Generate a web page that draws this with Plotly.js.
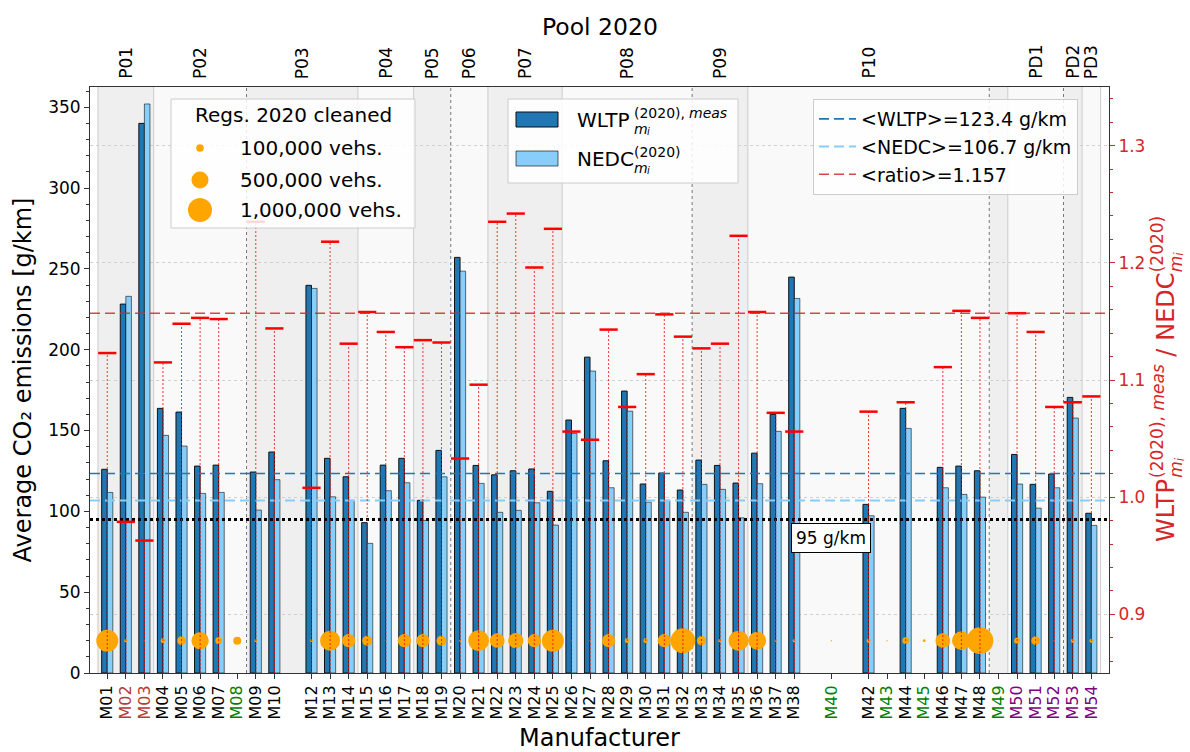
<!DOCTYPE html>
<html><head><meta charset="utf-8">
<script src="https://cdn.plot.ly/plotly-3.0.1.min.js"></script>
<style>html,body{margin:0;padding:0;background:#fff}</style>
</head><body>
<div id="chart" style="width:1190px;height:752px"></div>
<script>
// ---------------- data ----------------
const manufacturers = ["M01","M02","M03","M04","M05","M06","M07","M08","M09","M10",
  "","M12","M13","M14","M15","M16","M17","M18","M19","M20",
  "M21","M22","M23","M24","M25","M26","M27","M28","M29","M30",
  "M31","M32","M33","M34","M35","M36","M37","M38","","M40",
  "","M42","M43","M44","M45","M46","M47","M48","M49","M50",
  "M51","M52","M53","M54"];
const redLabels = ["M02","M03"];
const greenLabels = ["M08","M40","M43","M45","M49"];
const purpleLabels = ["M50","M51","M52","M53","M54"];

const wltp = [126.0,228.2,340.0,163.7,161.4,128.0,128.6,null,124.3,136.7,
  null,239.8,132.8,121.4,93.0,128.6,132.8,106.8,137.7,257.1,
  128.4,122.6,125.1,126.2,112.4,156.5,195.4,131.3,174.4,116.9,
  123.7,113.2,131.7,128.4,117.5,136.0,160.0,244.9,null,null,
  null,104.3,null,163.7,null,127.2,128.0,125.1,null,135.2,
  116.7,123.1,170.5,98.8];
const nedc = [111.7,233.0,352.0,147.0,140.4,111.1,111.7,null,100.8,119.6,
  null,237.9,109.0,106.8,80.2,112.8,117.7,94.4,121.4,248.6,
  117.3,99.4,100.6,105.3,91.5,148.2,186.8,114.6,162.0,105.7,
  106.8,99.4,116.7,113.6,96.0,117.1,149.5,231.7,null,null,
  null,97.3,null,151.3,null,114.6,110.5,108.8,null,116.9,
  102.0,114.6,157.7,91.3];
const ratio = [1.123,0.979,0.963,1.115,1.148,1.153,1.152,null,1.235,1.144,
  null,1.008,1.218,1.131,1.158,1.141,1.128,1.134,1.132,1.033,
  1.096,1.235,1.242,1.196,1.229,1.056,1.049,1.143,1.077,1.105,
  1.156,1.137,1.127,1.131,1.223,1.158,1.072,1.056,null,null,
  null,1.073,null,1.081,null,1.111,1.159,1.153,null,1.157,
  1.141,1.077,1.081,1.086];
const regs = [840000,19000,3000,38000,131000,520000,78000,111000,13000,1000,
  null,13000,694000,307000,174000,2000,307000,307000,174000,7000,
  744000,375000,406000,307000,840000,3000,3000,307000,38000,38000,
  307000,1060000,150000,19000,694000,562000,7000,19000,null,3000,
  null,28000,3000,78000,13000,375000,607000,1240000,1000,62000,
  131000,3000,28000,28000];

const poolNames = ["P01","P02","P03","P04","P05","P06","P07","P08","P09","P10","","PD1","PD2","PD3"];
const poolFirst = [0,3,8,14,17,19,21,25,32,35,48,49,52,53];
const poolLast  = [2,7,13,16,18,20,24,31,34,47,48,51,52,53];
const darkEdgePools = [2,5,8,10,12];

const meanWLTP = 123.4, meanNEDC = 106.7, meanRatio = 1.157, target = 95;
const legendRegs = [100000, 500000, 1000000];
const legendRegLabels = ["100,000 vehs.","500,000 vehs.","1,000,000 vehs."];

// ---------------- styling helpers ----------------
const FONT = 'DejaVu Sans, Liberation Sans, sans-serif';
const RED = '#d62728';
const XR = [-0.93, 53.95], YR = [0, 362.5], Y2R = [0.85, 1.35];
const PL = 90, PR = 1109, PT = 87, PB = 673;
const px = p => (p - PL) / (PR - PL);   // pixel -> paper x
const py = p => (PB - p) / (PB - PT);   // pixel -> paper y
const bubbleLevel = 20;
const diam = r => 24 * Math.sqrt(r / 1e6);

const idx = manufacturers.map((_, i) => i);
const tickvals = [], ticktext = [];
manufacturers.forEach((m, i) => {
  if (!m) return;
  let c = '#000000';
  if (redLabels.includes(m)) c = '#b83a35';
  else if (greenLabels.includes(m)) c = '#008000';
  else if (purpleLabels.includes(m)) c = '#800080';
  tickvals.push(i);
  ticktext.push('<span style="color:' + c + '">' + m + '</span>');
});

const stemX = [], stemY = [], capX = [], capY = [];
ratio.forEach((r, i) => { if (r != null) { stemX.push(i, i, null); stemY.push(Y2R[0], r, null); capX.push(i); capY.push(r); } });

const bx = [], by = [], bs = [];
regs.forEach((r, i) => { if (r != null) { bx.push(i); by.push(bubbleLevel); bs.push(diam(r)); } });

const traces = [
  {type:'bar', x:idx, y:wltp, width:0.3, offset:-0.3, showlegend:false,
   marker:{color:'#1f77b4', line:{color:'#111', width:1}}},
  {type:'bar', x:idx, y:nedc, width:0.3, offset:0, showlegend:false,
   marker:{color:'#87cefa', line:{color:'rgba(0,0,0,0.55)', width:1}}},
  {type:'scatter', mode:'lines', x:XR, y:[target, target], showlegend:false,
   line:{color:'#000', width:3, dash:'3px,3px'}},
  {type:'scatter', mode:'lines', x:XR, y:[meanWLTP, meanWLTP], legend:'legend2',
   name:'&lt;WLTP&gt;=' + meanWLTP.toFixed(1) + ' g/km', line:{color:'#1f77b4', width:1.6, dash:'10px,5px'}},
  {type:'scatter', mode:'lines', x:XR, y:[meanNEDC, meanNEDC], legend:'legend2',
   name:'&lt;NEDC&gt;=' + meanNEDC.toFixed(1) + ' g/km', line:{color:'#87cefa', width:2, dash:'10px,5px'}},
  {type:'scatter', mode:'markers', x:bx, y:by, showlegend:false,
   marker:{color:'#ffa500', opacity:1, size:bs, sizemode:'diameter', line:{width:0}}},
  {type:'scatter', mode:'lines', x:stemX, y:stemY, yaxis:'y2', showlegend:false,
   line:{color:'rgba(255,0,0,0.8)', width:1, dash:'2px,2px'}},
  {type:'scatter', mode:'markers', x:capX, y:capY, yaxis:'y2', showlegend:false,
   marker:{symbol:'line-ew', size:13, line:{color:'red', width:2.5}}},
  {type:'scatter', mode:'lines', x:XR, y:[meanRatio, meanRatio], yaxis:'y2', legend:'legend2',
   name:'&lt;ratio&gt;=' + meanRatio.toFixed(3), line:{color:'rgba(214,39,40,0.85)', width:1.6, dash:'10px,5px'}}
];

const shapes = [];
poolFirst.forEach((f, k) => {
  shapes.push({type:'rect', xref:'x', yref:'paper', x0:f - 0.5, x1:poolLast[k] + 0.5, y0:0, y1:1,
    fillcolor: k % 2 === 0 ? '#efefef' : '#f9f9f9', line:{width:0}, layer:'below'});
});
poolFirst.forEach((f, k) => {
  const dark = darkEdgePools.includes(k);
  shapes.push({type:'line', xref:'x', yref:'paper', x0:f - 0.5, x1:f - 0.5, y0:0, y1:1, layer:'below',
    line:{color: dark ? '#777777' : '#cccccc', width:1, dash: dark ? 'dot' : 'solid'}});
});
const lastEdge = poolLast[poolLast.length - 1] + 0.5;
shapes.push({type:'line', xref:'x', yref:'paper', x0:lastEdge, x1:lastEdge, y0:0, y1:1, layer:'below',
  line:{color:'#cccccc', width:1}});

// manual legend frames (pixel layout -> paper)
const frame = (x0, x1, y0, y1) => ({type:'rect', xref:'paper', yref:'paper', x0:px(x0), x1:px(x1), y0:py(y1), y1:py(y0),
  fillcolor:'rgba(255,255,255,0.85)', line:{color:'#cccccc', width:1}, layer:'above'});
shapes.push(frame(171, 415, 99, 228));   // registrations legend
shapes.push(frame(508, 738, 99, 183));   // bars legend
shapes.push({type:'rect', xref:'paper', yref:'paper', x0:px(516), x1:px(558), y0:py(127), y1:py(112), layer:'above',
  fillcolor:'#1f77b4', line:{color:'#111', width:1}});
shapes.push({type:'rect', xref:'paper', yref:'paper', x0:px(516), x1:px(558), y0:py(166), y1:py(151), layer:'above',
  fillcolor:'#87cefa', line:{color:'rgba(0,0,0,0.6)', width:1}});
const legCy = [148, 180, 210];
legendRegs.forEach((r, k) => {
  const d = diam(r);
  shapes.push({type:'circle', xref:'paper', yref:'paper', x0:px(200 - d/2), x1:px(200 + d/2),
    y0:py(legCy[k] + d/2), y1:py(legCy[k] - d/2), fillcolor:'#ffa500', line:{width:0}, layer:'above'});
});

const T = (x, y, text, size, xanchor, color, angle, italic) => ({xref:'paper', yref:'paper', x:px(x), y:py(y), text:text,
  showarrow:false, xanchor:xanchor || 'left', yanchor:'middle', textangle:angle || 0,
  font:{size:size, color:color || '#000', style: italic ? 'italic' : 'normal'}});

const annotations = [
  {xref:'x', yref:'y', x:39, y:83.8, text:target + ' g/km', showarrow:false, font:{size:17, color:'#000'},
   bgcolor:'#ffffff', bordercolor:'#000', borderwidth:1, borderpad:4},
  T(293, 115, 'Regs. 2020 cleaned', 20, 'center'),
  // bars legend texts: stacked super-/subscripts built from separate pieces
  T(575, 119.5, 'WLTP', 20),
  T(632, 112.5, '(2020),', 14),
  T(687, 112.5, 'meas', 14, 'left', '#000', 0, true),
  T(632, 128.5, 'm', 14, 'left', '#000', 0, true),
  T(644.5, 131.5, 'i', 10, 'left', '#000', 0, true),
  T(575, 158.5, 'NEDC', 20),
  T(632, 151.5, '(2020)', 14),
  T(632, 167.5, 'm', 14, 'left', '#000', 0, true),
  T(644.5, 170.5, 'i', 10, 'left', '#000', 0, true),
  // top "Pool 2020" title
  T((PL + PR) / 2, 27, 'Pool 2020', 23.5, 'center'),
  // right axis title (rotated) with stacked super/subscripts
  T(1166, 511, 'WLTP', 24, 'center', RED, -90),
  T(1157, 447, '(2020),', 17, 'center', RED, -90),
  T(1157, 387.5, 'meas', 17, 'center', RED, -90, true),
  T(1176, 469.7, 'm', 17, 'center', RED, -90, true),
  T(1179.5, 459.7, 'i', 12, 'center', RED, -90, true),
  T(1166, 352.7, '/', 24, 'center', RED, -90),
  T(1166, 306.8, 'NEDC', 24, 'center', RED, -90),
  T(1157, 244.3, '(2020)', 17, 'center', RED, -90),
  T(1176, 264.3, 'm', 17, 'center', RED, -90, true),
  T(1179.5, 254.3, 'i', 12, 'center', RED, -90, true)
];
legendRegLabels.forEach((t, k) => annotations.push(T(238, legCy[k], t, 20)));
// pool labels along the top
poolNames.forEach((p, k) => {
  if (!p) return;
  annotations.push({xref:'x', yref:'paper', x:(poolFirst[k] + poolLast[k]) / 2, y:py(81), text:p, showarrow:false,
    textangle:-90, xanchor:'center', yanchor:'bottom', font:{size:17, color:'#000'}});
});

const layout = {
  width:1190, height:752,
  margin:{l:PL, r:1190 - PR, t:PT, b:752 - PB},
  paper_bgcolor:'#ffffff', plot_bgcolor:'#ffffff',
  font:{family:FONT, color:'#000'},
  barmode:'overlay', hovermode:false, showlegend:true,
  xaxis:{range:XR, tickvals:tickvals, ticktext:ticktext, tickangle:-90, ticks:'outside', ticklen:5,
    tickcolor:'#333', tickfont:{size:16}, showline:true, linecolor:'#333', mirror:true, showgrid:false,
    zeroline:false, title:{text:'Manufacturer', font:{size:24}, standoff:12}},
  yaxis:{range:YR, tick0:0, dtick:50, ticks:'outside', ticklen:5, tickcolor:'#333',
    minor:{dtick:10, ticks:'outside', ticklen:3, tickcolor:'#333', showgrid:false},
    showgrid:false, zeroline:false, showline:true, linecolor:'#333', tickfont:{size:17},
    title:{text:'Average CO\u2082 emissions [g/km]', font:{size:24}, standoff:9}},
  yaxis2:{overlaying:'y', side:'right', range:Y2R, tick0:0.9, dtick:0.1, tickformat:'.1f',
    ticks:'outside', ticklen:5, tickcolor:RED,
    minor:{dtick:0.02, ticks:'outside', ticklen:3, tickcolor:RED, showgrid:false},
    showgrid:true, gridcolor:'#d0d0d0', griddash:'dot', gridwidth:1, zeroline:false,
    showline:true, linecolor:'#333', tickfont:{size:17, color:RED}},
  legend2:{bgcolor:'rgba(255,255,255,0.85)', bordercolor:'#cccccc', borderwidth:1, itemwidth:37,
    font:{size:19, family:FONT, color:'#000'}, xanchor:'left', yanchor:'top', x:px(813), y:py(99)},
  shapes:shapes,
  annotations:annotations
};

Plotly.newPlot('chart', traces, layout, {staticPlot:true, displayModeBar:false});
</script>
</body></html>
